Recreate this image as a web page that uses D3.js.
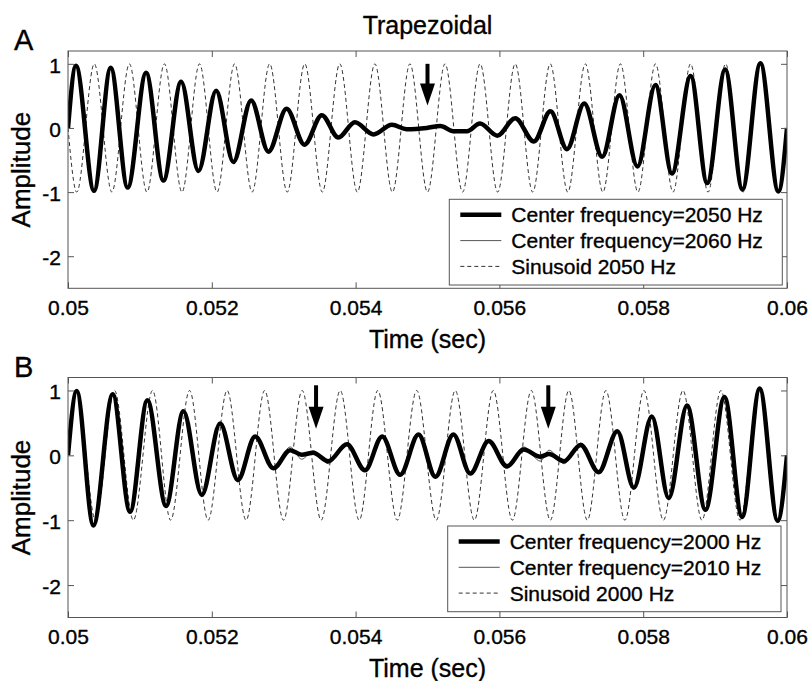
<!DOCTYPE html>
<html><head><meta charset="utf-8">
<script src="https://cdn.jsdelivr.net/npm/d3@7"></script>
<style>
body{margin:0;background:#fff}
svg{display:block}
text{font-family:"Liberation Sans",Arial,Helvetica,sans-serif;fill:#000;stroke:#000;stroke-width:0.35px}
</style>
</head><body>
<svg id="chart" width="811" height="681"></svg>
<script>
// ---------- data (time in ms after 0.05 s, amplitude) ----------
const timeTicks = [0.05, 0.052, 0.054, 0.056, 0.058, 0.06];
const timeTickLabels = ["0.05", "0.052", "0.054", "0.056", "0.058", "0.06"];
const ampTicks = [1, 0, -1, -2];
const ampTickLabels = ["1", "0", "-1", "-2"];

// Panel A : thick = Center frequency 2050 Hz (extrema)
const thickA = [[0,0],[0.111,0.97],[0.362,-0.98],[0.594,0.94],[0.830,-0.93],[1.086,0.86],[1.327,-0.82],
 [1.573,0.72],[1.814,-0.67],[2.060,0.58],[2.300,-0.53],[2.547,0.43],[2.788,-0.37],[3.040,0.30],[3.290,-0.26],
 [3.530,0.20],[3.760,-0.15],[3.990,0.09],[4.250,-0.10],[4.505,0.05],[4.710,-0.02],[4.990,0.0],[5.180,0.03],
 [5.360,-0.05],[5.550,-0.05],[5.730,0.07],[5.970,-0.12],[6.220,0.15],[6.480,-0.21],[6.710,0.26],[6.940,-0.33],
 [7.180,0.38],[7.430,-0.45],[7.670,0.51],[7.920,-0.60],[8.170,0.67],[8.400,-0.71],[8.660,0.81],[8.890,-0.86],
 [9.140,0.91],[9.380,-0.96],[9.630,1.01],[9.880,-0.99],[10.0,0]];
// Panel A : thin = Center frequency 2060 Hz
const thinA = [[0,0],[0.111,0.97],[0.362,-0.98],[0.594,0.94],[0.830,-0.93],[1.086,0.86],[1.327,-0.82],
 [1.573,0.72],[1.814,-0.67],[2.060,0.58],[2.300,-0.53],[2.547,0.43],[2.788,-0.37],[3.040,0.30],[3.290,-0.26],
 [3.530,0.21],[3.760,-0.16],[3.990,0.10],[4.250,-0.11],[4.505,0.06],[4.710,-0.03],[4.990,0.01],[5.180,0.04],
 [5.360,-0.06],[5.550,-0.04],[5.730,0.08],[5.970,-0.12],[6.220,0.15],[6.480,-0.21],[6.710,0.26],[6.940,-0.33],
 [7.180,0.38],[7.430,-0.45],[7.670,0.51],[7.920,-0.60],[8.170,0.67],[8.400,-0.71],[8.660,0.81],[8.890,-0.86],
 [9.140,0.91],[9.380,-0.96],[9.630,1.01],[9.880,-0.99],[10.0,0]];
// Panel A : dashed = Sinusoid 2050 Hz
const sineA = [[0,0],[0.122,-1],[0.366,1],[0.610,-1],[0.854,1],[1.098,-1],[1.341,1],[1.585,-1],[1.829,1],
 [2.073,-1],[2.317,1],[2.561,-1],[2.805,1],[3.049,-1],[3.293,1],[3.537,-1],[3.780,1],[4.024,-1],[4.268,1],
 [4.512,-1],[4.756,1],[5.000,-1],[5.244,1],[5.488,-1],[5.732,1],[5.976,-1],[6.220,1],[6.463,-1],[6.707,1],
 [6.951,-1],[7.195,1],[7.439,-1],[7.683,1],[7.927,-1],[8.171,1],[8.415,-1],[8.659,1],[8.902,-1],[9.146,1],
 [9.390,-1],[9.634,1],[9.878,-1],[10.0,0]];

// Panel B : thick = Center frequency 2000 Hz
const thickB = [[0,0],[0.121,0.99],[0.353,-1.08],[0.622,0.94],[0.863,-0.87],[1.104,0.85],[1.364,-0.78],
 [1.605,0.68],[1.861,-0.61],[2.116,0.49],[2.362,-0.38],[2.603,0.29],[2.857,-0.20],[3.090,0.08],[3.250,0.01],
 [3.410,0.04],[3.620,-0.09],[3.880,0.17],[4.130,-0.23],[4.370,0.29],[4.620,-0.30],[4.875,0.32],[5.110,-0.33],
 [5.360,0.32],[5.595,-0.28],[5.850,0.22],[6.106,-0.17],[6.337,0.09],[6.570,-0.02],[6.690,0.02],[6.900,-0.09],
 [7.130,0.16],[7.380,-0.26],[7.640,0.37],[7.870,-0.50],[8.120,0.60],[8.355,-0.66],[8.610,0.77],[8.866,-0.84],
 [9.130,0.90],[9.376,-0.95],[9.620,1.03],[9.870,-1.01],[10.0,0]];
// Panel B : thin = Center frequency 2010 Hz
const thinB = [[0,0],[0.121,0.99],[0.353,-1.06],[0.622,0.94],[0.863,-0.88],[1.104,0.85],[1.364,-0.80],
 [1.605,0.68],[1.861,-0.63],[2.116,0.50],[2.362,-0.41],[2.603,0.30],[2.857,-0.22],[3.090,0.13],[3.250,-0.06],
 [3.410,0.07],[3.620,-0.13],[3.880,0.19],[4.130,-0.25],[4.370,0.29],[4.620,-0.32],[4.875,0.32],[5.110,-0.35],
 [5.360,0.32],[5.595,-0.30],[5.850,0.23],[6.106,-0.20],[6.337,0.13],[6.570,-0.09],[6.690,0.08],[6.900,-0.13],
 [7.130,0.19],[7.380,-0.27],[7.640,0.37],[7.870,-0.50],[8.120,0.60],[8.355,-0.66],[8.610,0.77],[8.866,-0.84],
 [9.130,0.90],[9.376,-0.95],[9.620,1.03],[9.870,-1.01],[10.0,0]];
// Panel B : dashed = Sinusoid 2000 Hz
const sineB = [[0,0.12],[0.120,1],[0.383,-1],[0.647,1],[0.909,-1],[1.176,1],[1.427,-1],[1.691,1],[1.949,-1],
 [2.213,1],[2.477,-1],[2.735,1],[2.997,-1],[3.257,1],[3.521,-1],[3.786,1],[4.050,-1],[4.308,1],[4.579,-1],
 [4.850,1],[5.122,-1],[5.386,1],[5.651,-1],[5.915,1],[6.180,-1],[6.444,1],[6.708,-1],[6.966,1],[7.223,-1],
 [7.481,1],[7.745,-1],[8.010,1],[8.281,-1],[8.553,1],[8.817,-1],[9.081,1],[9.346,-1],[9.610,1],[9.875,-1],[10.0,-0.08]];

const legendA = ["Center frequency=2050 Hz", "Center frequency=2060 Hz", "Sinusoid 2050 Hz"];
const legendB = ["Center frequency=2000 Hz", "Center frequency=2010 Hz", "Sinusoid 2000 Hz"];
// arrows: [time (s), amplitude at tail, amplitude at tip]
const arrowsA = [[0.05500, 1.00, 0.35]];
const arrowsB = [[0.05345, 1.08, 0.41], [0.05668, 1.08, 0.41]];

// ---------- drawing ----------
const svg = d3.select("#chart");
const L = 68, R = 787;
const panels = [
  {top: 51, bottom: 288.3, letter: "A", title: "Trapezoidal", thick: thickA, thin: thinA, sine: sineA, legend: legendA, arrows: arrowsA,
   lg: {x0: 449.3, x1: 782.3, y0: 199.3, y1: 285}},
  {top: 377.5, bottom: 617.5, letter: "B", title: null, thick: thickB, thin: thinB, sine: sineB, legend: legendB, arrows: arrowsB,
   lg: {x0: 447.7, x1: 781, y0: 526, y1: 611.7}}
];
const toSec = d => [0.05 + d[0] / 1000, d[1]];

panels.forEach((p, pi) => {
  const x = d3.scaleLinear().domain([0.05, 0.06]).range([L, R]);
  const y = d3.scaleLinear().domain([-2.5, 1.2]).range([p.bottom, p.top]);
  const g = svg.append("g");
  const clipId = "clip" + pi;
  g.append("clipPath").attr("id", clipId).append("rect")
    .attr("x", L).attr("y", p.top).attr("width", R - L).attr("height", p.bottom - p.top);

  const line = d3.line().x(d => x(d[0])).y(d => y(d[1])).curve(d3.curveMonotoneX);
  const plot = g.append("g").attr("clip-path", `url(#${clipId})`);
  plot.append("path").attr("d", line(p.sine.map(toSec))).attr("fill", "none")
    .attr("stroke", "#333").attr("stroke-width", 1).attr("stroke-dasharray", "4,3");
  plot.append("path").attr("d", line(p.thin.map(toSec))).attr("fill", "none")
    .attr("stroke", "#555").attr("stroke-width", 1);
  plot.append("path").attr("d", line(p.thick.map(toSec))).attr("fill", "none")
    .attr("stroke", "#000").attr("stroke-width", 4.5).attr("stroke-linejoin", "round");

  // axes (MATLAB style, ticks inside, box on)
  const fmtX = (d, i) => timeTickLabels[i];
  const fmtY = (d, i) => ampTickLabels[i];
  const axB = g.append("g").attr("transform", `translate(0,${p.bottom})`)
    .call(d3.axisBottom(x).tickValues(timeTicks).tickFormat(fmtX).tickSize(-6).tickPadding(12));
  const axT = g.append("g").attr("transform", `translate(0,${p.top})`)
    .call(d3.axisTop(x).tickValues(timeTicks).tickFormat("").tickSize(-6));
  const axL = g.append("g").attr("transform", `translate(${L},0)`)
    .call(d3.axisLeft(y).tickValues(ampTicks).tickFormat(fmtY).tickSize(-6).tickPadding(7));
  const axR = g.append("g").attr("transform", `translate(${R},0)`)
    .call(d3.axisRight(y).tickValues(ampTicks).tickFormat("").tickSize(-6));
  [axB, axT, axL, axR].forEach(a => {
    a.select(".domain").remove();
    a.selectAll(".tick line").attr("stroke", "#555");
    a.selectAll("text").attr("font-size", 21).attr("font-family", "Liberation Sans, Arial, sans-serif").attr("fill", "#000");
  });
  axL.selectAll("text").attr("dy", "0.40em");

  g.append("rect").attr("x", L).attr("y", p.top).attr("width", R - L).attr("height", p.bottom - p.top)
    .attr("fill", "none").attr("stroke", "#555").attr("stroke-width", 1);

  // arrows
  p.arrows.forEach(a => {
    const ax = x(a[0]), yt = y(a[1]), yp = y(a[2]);
    const headLen = 22, headW = 7.5;
    g.append("line").attr("x1", ax).attr("x2", ax).attr("y1", yt).attr("y2", yp - headLen + 2)
      .attr("stroke", "#000").attr("stroke-width", 4);
    g.append("path").attr("d", `M${ax - headW},${yp - headLen} L${ax + headW},${yp - headLen} L${ax},${yp} Z`)
      .attr("fill", "#000");
  });

  // legend
  const lg = p.lg;
  g.append("rect").attr("x", lg.x0).attr("y", lg.y0).attr("width", lg.x1 - lg.x0).attr("height", lg.y1 - lg.y0)
    .attr("fill", "#fff").attr("stroke", "#555").attr("stroke-width", 1);
  const styles = [{w: 4.5, c: "#000", da: null}, {w: 1, c: "#555", da: null}, {w: 1, c: "#333", da: "4,3"}];
  p.legend.forEach((t, i) => {
    const cy = lg.y0 + 15.5 + i * 25.8;
    const ln = g.append("line").attr("x1", lg.x0 + 11).attr("x2", lg.x0 + 52).attr("y1", cy).attr("y2", cy)
      .attr("stroke", styles[i].c).attr("stroke-width", styles[i].w);
    if (styles[i].da) ln.attr("stroke-dasharray", styles[i].da);
    g.append("text").attr("x", lg.x0 + 62).attr("y", cy + 7.5).attr("font-size", 21).text(t);
  });

  // labels
  g.append("text").attr("x", 14).attr("y", p.top - 1).attr("font-size", 29).text(p.letter);
  if (p.title) g.append("text").attr("x", (L + R) / 2).attr("y", 33.5).attr("text-anchor", "middle")
    .attr("font-size", 25).text(p.title);
  g.append("text").attr("x", (L + R) / 2).attr("y", p.bottom + 59.5).attr("text-anchor", "middle")
    .attr("font-size", 25).text("Time (sec)");
  g.append("text").attr("transform", `translate(30,${(p.top + p.bottom) / 2}) rotate(-90)`)
    .attr("text-anchor", "middle").attr("font-size", 26).text("Amplitude");
});
</script>
</body></html>
